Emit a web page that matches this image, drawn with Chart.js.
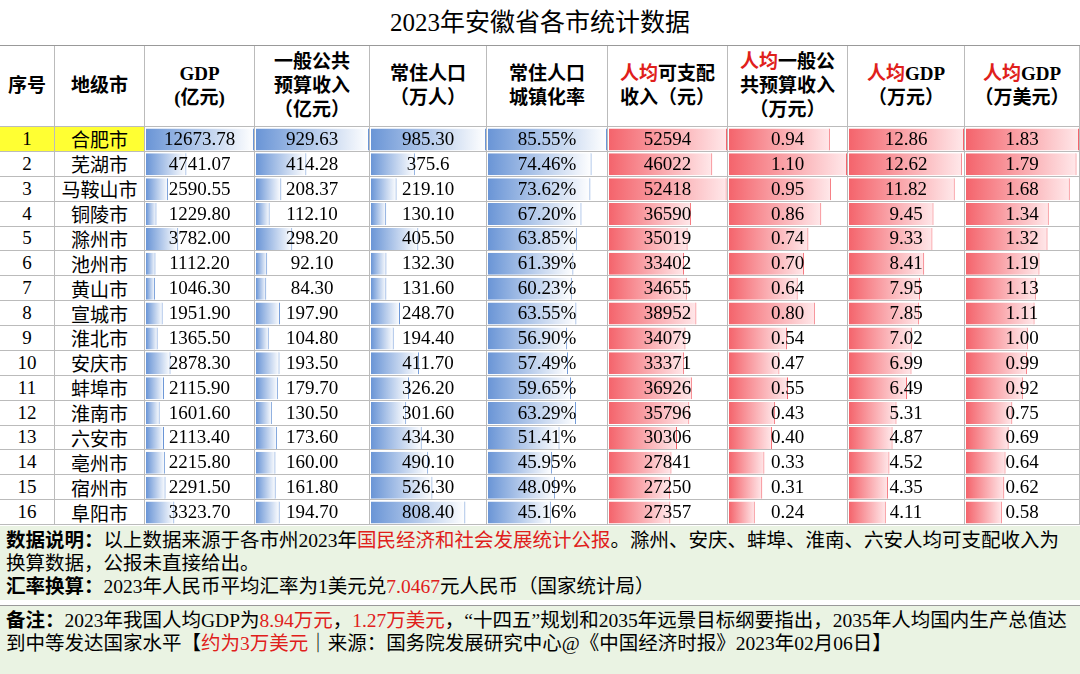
<!DOCTYPE html>
<html><head><meta charset="utf-8">
<script src="https://cdn.jsdelivr.net/npm/chart.js@4"></script>
<style>
body{margin:0;width:1080px;height:674px;background:#fff;font-family:"Liberation Serif","Noto Sans CJK SC",serif;overflow:hidden;position:relative}
#title{position:absolute;left:0;top:0;width:1080px;height:45px;line-height:45px;text-align:center;font-size:25px;font-family:"Liberation Serif","Noto Sans CJK SC";border-bottom:1px solid #999}
.cell{position:absolute;box-sizing:border-box;border-right:1px solid #bbb;border-bottom:1px solid #bbb;display:flex;align-items:center;justify-content:center;text-align:center;z-index:2}
.hd{font-size:19px;line-height:24px;font-weight:bold}
.dt{font-size:19px}
.red{color:#e0201b}
canvas{position:absolute;z-index:1}
.note{position:absolute;left:0;width:1080px;box-sizing:border-box;background:#eaf3e3;font-size:19.5px;line-height:23px;padding:3px 6px;font-family:"Liberation Serif","Noto Sans CJK SC"}
.note .r{color:#e0201b}
</style></head><body>
<div id="title">2023年安徽省各市统计数据</div>
<div id="grid"></div>
<div class="note" style="top:526px;height:74px"><b>数据说明：</b>以上数据来源于各市州2023年<span class="r">国民经济和社会发展统计公报</span>。滁州、安庆、蚌埠、淮南、六安人均可支配收入为换算数据，公报未直接给出。<br><b>汇率换算：</b>2023年人民币平均汇率为1美元兑<span class="r">7.0467</span>元人民币（国家统计局）</div>
<div class="note" style="top:605px;height:69px;border-top:1px solid #999"><b>备注：</b>2023年我国人均GDP为<span class="r">8.94万元</span>，<span class="r">1.27万美元</span>，“十四五”规划和2035年远景目标纲要指出，2035年人均国内生产总值达到中等发达国家水平【<span class="r">约为3万美元</span>｜来源：国务院发展研究中心@《中国经济时报》2023年02月06日】</div>
<script>
const cities=["合肥市","芜湖市","马鞍山市","铜陵市","滁州市","池州市","黄山市","宣城市","淮北市","安庆市","蚌埠市","淮南市","六安市","亳州市","宿州市","阜阳市"];
const gdp=[12673.78,4741.07,2590.55,1229.80,3782.00,1112.20,1046.30,1951.90,1365.50,2878.30,2115.90,1601.60,2113.40,2215.80,2291.50,3323.70];
const revenue=[929.63,414.28,208.37,112.10,298.20,92.10,84.30,197.90,104.80,193.50,179.70,130.50,173.60,160.00,161.80,194.70];
const population=[985.30,375.6,219.10,130.10,405.50,132.30,131.60,248.70,194.40,411.70,326.20,301.60,434.30,490.10,526.30,808.40];
const urban=[85.55,74.46,73.62,67.20,63.85,61.39,60.23,63.55,56.90,57.49,59.65,63.29,51.41,45.95,48.09,45.16];
const income=[52594,46022,52418,36590,35019,33402,34655,38952,34079,33371,36926,35796,30306,27841,27250,27357];
const revPc=[0.94,1.10,0.95,0.86,0.74,0.70,0.64,0.80,0.54,0.47,0.55,0.43,0.40,0.33,0.31,0.24];
const gdpPc=[12.86,12.62,11.82,9.45,9.33,8.41,7.95,7.85,7.02,6.99,6.49,5.31,4.87,4.52,4.35,4.11];
const gdpPcUsd=[1.83,1.79,1.68,1.34,1.32,1.19,1.13,1.11,1.00,0.99,0.92,0.75,0.69,0.64,0.62,0.58];
const headers=["序号","地级市","GDP<br>(亿元)","一般公共<br>预算收入<br>（亿元）","常住人口<br>（万人）","常住人口<br>城镇化率",'<span class="red">人均</span>可支配<br>收入（元）','<span class="red">人均</span>一般公<br>共预算收入<br>（万元）','<span class="red">人均</span>GDP<br>（万元）','<span class="red">人均</span>GDP<br>（万美元）'];
const xs=[0,55,145,255,370,487,608,728,848,965,1080];
const top0=127,rh=24.875,hy=46;
const cols=[null,null,
 {d:gdp,f:v=>v.toFixed(2),c:'blue'},
 {d:revenue,f:v=>v.toFixed(2),c:'blue'},
 {d:population,f:(v,i)=>i==1?'375.6':v.toFixed(2),c:'blue'},
 {d:urban,f:v=>v.toFixed(2)+'%',c:'blue'},
 {d:income,f:v=>String(v),c:'red'},
 {d:revPc,f:v=>v.toFixed(2),c:'red'},
 {d:gdpPc,f:v=>v.toFixed(2),c:'red'},
 {d:gdpPcUsd,f:v=>v.toFixed(2),c:'red'}];
const g=document.getElementById('grid');
function cell(x0,x1,y0,y1,html,cls,bg){const d=document.createElement('div');d.className='cell '+cls;d.style.left=x0+'px';d.style.width=(x1-x0)+'px';d.style.top=y0+'px';d.style.height=(y1-y0)+'px';d.innerHTML='<div>'+html+'</div>';if(bg)d.style.background=bg;g.appendChild(d);}
for(let c=0;c<10;c++){
 cell(xs[c],xs[c+1],hy,top0,headers[c],'hd');
 for(let r=0;r<16;r++){
  const y0=top0+r*rh,y1=top0+(r+1)*rh;
  let t=c==0?String(r+1):c==1?cities[r]:cols[c].f(cols[c].d[r],r);
  cell(xs[c],xs[c+1],y0,y1,t,'dt',(r==0&&c<2)?'#ffff33':null);
 }
}
for(let c=2;c<10;c++){
 const cv=document.createElement('canvas');
 cv.style.left=(xs[c]+1)+'px';cv.style.top=top0+'px';
 cv.style.width=(xs[c+1]-xs[c]-2)+'px';cv.style.height=(rh*16)+'px';
 cv.width=xs[c+1]-xs[c]-2;cv.height=Math.round(rh*16);
 document.body.appendChild(cv);
 const col=cols[c];
 const dark=col.c=='blue'?'#6a95d6':'#f4646c',light=col.c=='blue'?'#ffffff':'#ffe8ea';
 new Chart(cv,{type:'bar',data:{labels:cities,datasets:[{data:col.d,
  backgroundColor:(ctx)=>{const ch=ctx.chart;if(!ch.chartArea)return dark;const x1=ch.scales.x.getPixelForValue(ctx.raw);const gr=ch.ctx.createLinearGradient(ch.chartArea.left,0,Math.max(x1,ch.chartArea.left+1),0);gr.addColorStop(0,dark);gr.addColorStop(1,light);return gr;},
  borderColor:dark,borderWidth:{top:0,bottom:0,left:0,right:1},barPercentage:0.88,categoryPercentage:1}]},
  options:{indexAxis:'y',responsive:false,animation:false,layout:{padding:0},
   plugins:{legend:{display:false},tooltip:{enabled:false}},
   scales:{x:{display:false,min:0,max:Math.max(...col.d)},y:{display:false}}}});
}
</script></body></html>
